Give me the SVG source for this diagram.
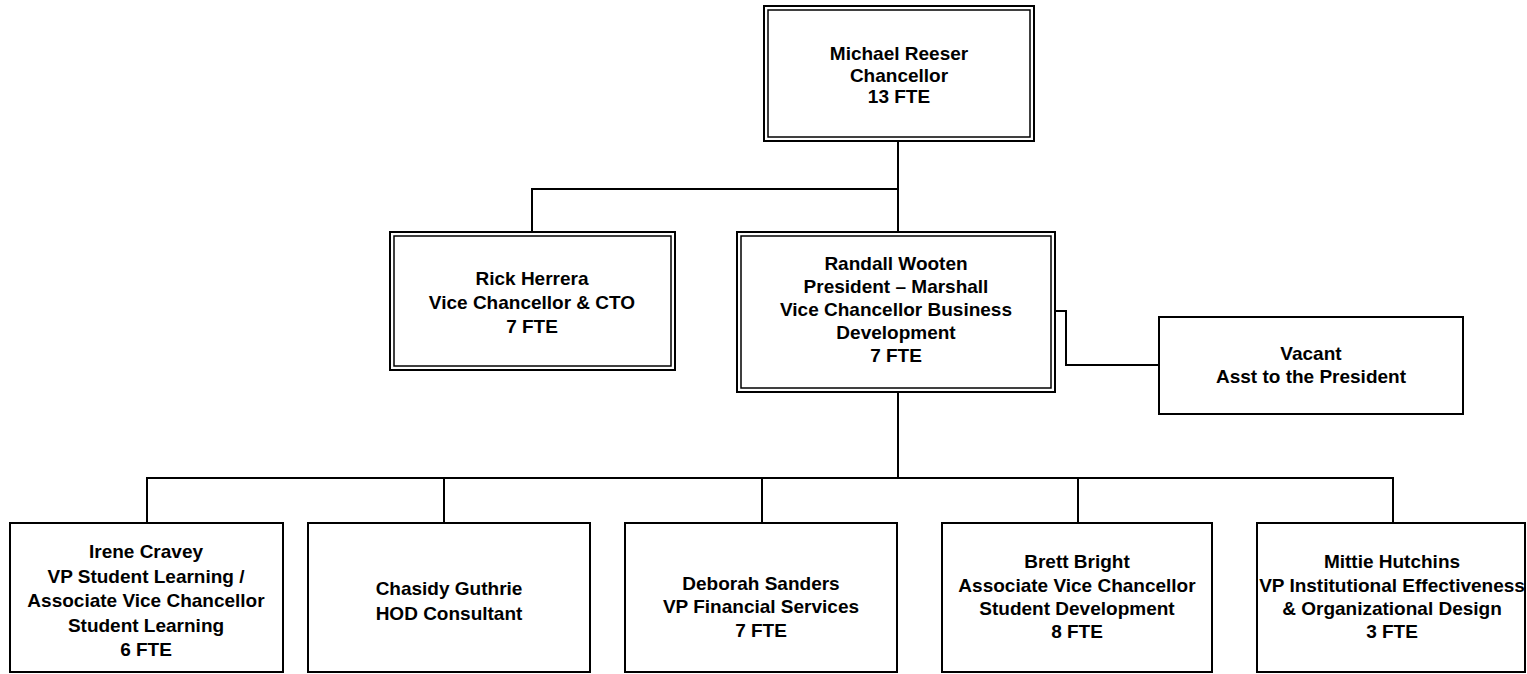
<svg xmlns="http://www.w3.org/2000/svg" width="1527" height="674" viewBox="0 0 1527 674">
<style>
.box{fill:#fff;stroke:#000;stroke-width:2}
.inner{fill:none;stroke:#000;stroke-width:1.5}
.conn{fill:none;stroke:#000;stroke-width:2}
text{font-family:"Liberation Sans",Arial,sans-serif;font-weight:bold;font-size:19px;fill:#000;text-anchor:middle}
</style>
<rect width="1527" height="674" fill="#fff"/>
<g id="connectors">
<path class="conn" d="M898,141 V189 H532 V232"/>
<path class="conn" d="M898,189 V232"/>
<path class="conn" d="M1055,311 H1066 V365 H1159"/>
<path class="conn" d="M898,392 V478"/>
<path class="conn" d="M147,523 V478 H1393 V523"/>
<path class="conn" d="M444,478 V523"/>
<path class="conn" d="M762,478 V523"/>
<path class="conn" d="M1078,478 V523"/>
</g>
<g id="michael">
<rect class="box" x="764" y="6" width="270" height="135"/>
<rect class="inner" x="768" y="10" width="262" height="127"/>
<text x="899" y="60">Michael Reeser</text>
<text x="899" y="82">Chancellor</text>
<text x="899" y="103">13 FTE</text>
</g>
<g id="rick">
<rect class="box" x="390" y="232" width="285" height="138"/>
<rect class="inner" x="394" y="236" width="277" height="130"/>
<text x="532" y="285">Rick Herrera</text>
<text x="532" y="309">Vice Chancellor &amp; CTO</text>
<text x="532" y="333">7 FTE</text>
</g>
<g id="randall">
<rect class="box" x="737" y="232" width="318" height="160"/>
<rect class="inner" x="741" y="236" width="310" height="152"/>
<text x="896" y="270">Randall Wooten</text>
<text x="896" y="293">President – Marshall</text>
<text x="896" y="316">Vice Chancellor Business</text>
<text x="896" y="339">Development</text>
<text x="896" y="362">7 FTE</text>
</g>
<g id="vacant">
<rect class="box" x="1159" y="317" width="304" height="97"/>
<text x="1311" y="360">Vacant</text>
<text x="1311" y="383">Asst to the President</text>
</g>
<g id="irene">
<rect class="box" x="10" y="523" width="273" height="149"/>
<text x="146" y="558">Irene Cravey</text>
<text x="146" y="583">VP Student Learning /</text>
<text x="146" y="607">Associate Vice Chancellor</text>
<text x="146" y="632">Student Learning</text>
<text x="146" y="656">6 FTE</text>
</g>
<g id="chasidy">
<rect class="box" x="308" y="523" width="282" height="149"/>
<text x="449" y="595">Chasidy Guthrie</text>
<text x="449" y="620">HOD Consultant</text>
</g>
<g id="deborah">
<rect class="box" x="625" y="523" width="272" height="149"/>
<text x="761" y="590">Deborah Sanders</text>
<text x="761" y="613">VP Financial Services</text>
<text x="761" y="637">7 FTE</text>
</g>
<g id="brett">
<rect class="box" x="942" y="523" width="270" height="149"/>
<text x="1077" y="568">Brett Bright</text>
<text x="1077" y="592">Associate Vice Chancellor</text>
<text x="1077" y="615">Student Development</text>
<text x="1077" y="638">8 FTE</text>
</g>
<g id="mittie">
<rect class="box" x="1257" y="523" width="268" height="149"/>
<text x="1392" y="568">Mittie Hutchins</text>
<text x="1392" y="592">VP Institutional Effectiveness</text>
<text x="1392" y="615">&amp; Organizational Design</text>
<text x="1392" y="638">3 FTE</text>
</g>
</svg>
